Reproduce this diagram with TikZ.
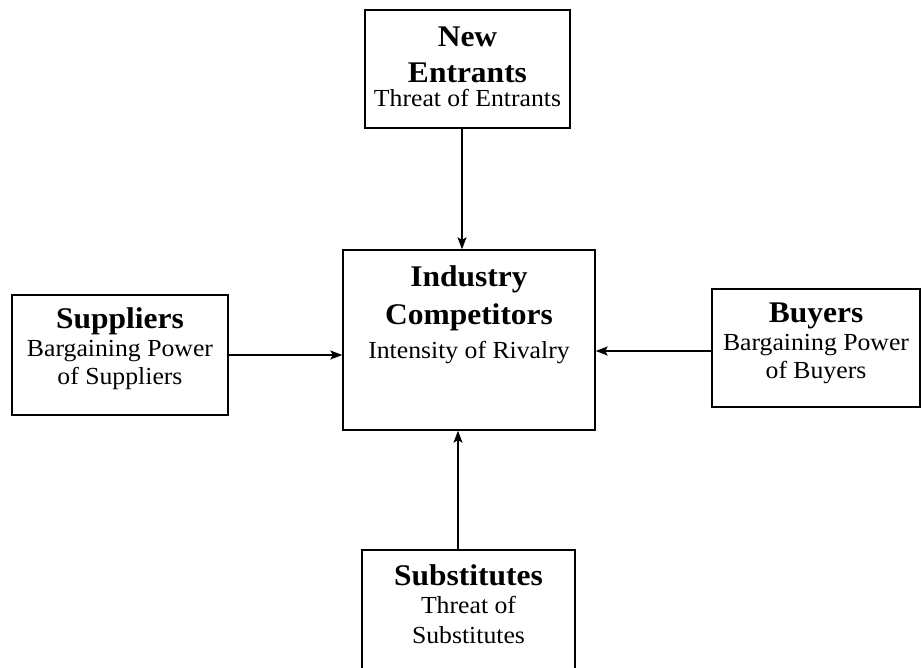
\documentclass[tikz,border=0pt]{standalone}
\usepackage{fontspec}
\setmainfont{Liberation Serif}[FakeStretch=1.05]
\usetikzlibrary{arrows.meta}
\newcommand{\force}[1]{{\fontsize{30}{38}\selectfont\bfseries #1}}

\begin{document}
\begin{tikzpicture}[x=1pt,y=-1pt,
    box/.style={draw, line width=1.4pt, inner sep=0pt},
    body/.style={align=center, inner sep=0pt, anchor=north, font=\fontsize{24.5}{28}\selectfont},
    arr/.style={-{Stealth[length=12pt,width=9pt,inset=2.5pt]}, line width=1.3pt}]
\clip (0,0) rectangle (921,667);
\node[box, minimum width=205, minimum height=118] (entrants) at (467.5,69) {};
\node[box, minimum width=252, minimum height=180] (rival) at (469,340) {};
\node[box, minimum width=216, minimum height=120] (suppliers) at (120,355) {};
\node[box, minimum width=208, minimum height=118] (buyers) at (816,348) {};
\node[box, minimum width=213, minimum height=150] (substitutes) at (468.5,625) {};
\node[body] (entrantstext) at (467.5,27) {\force{New}\\[8pt]\force{Entrants}\\[-4pt]Threat of Entrants};
\node[body] (rivaltext) at (469,265) {\force{Industry}\\[10pt]\force{Competitors}\\[6pt]Intensity of Rivalry};
\node[body] (supplierstext) at (120,307.5) {\force{Suppliers}\\Bargaining Power\\of Suppliers};
\node[body] (buyerstext) at (816,303) {\force{Buyers}\\Bargaining Power\\of Buyers};
\node[body] (substitutestext) at (468.5,564.5) {\force{Substitutes}\\Threat of\\[2pt]Substitutes};
\draw[arr] ([xshift=-5.5pt]entrants.south) -- ([xshift=-5.5pt]entrants.south |- rival.north);
\draw[arr] (suppliers.east) -- (suppliers.east -| rival.west);
\draw[arr] ([yshift=-3pt]buyers.west) -- ([yshift=-3pt]buyers.west -| rival.east);
\draw[arr] ([xshift=-10.5pt]substitutes.north) -- ([xshift=-10.5pt]substitutes.north |- rival.south);
\end{tikzpicture}
\end{document}
